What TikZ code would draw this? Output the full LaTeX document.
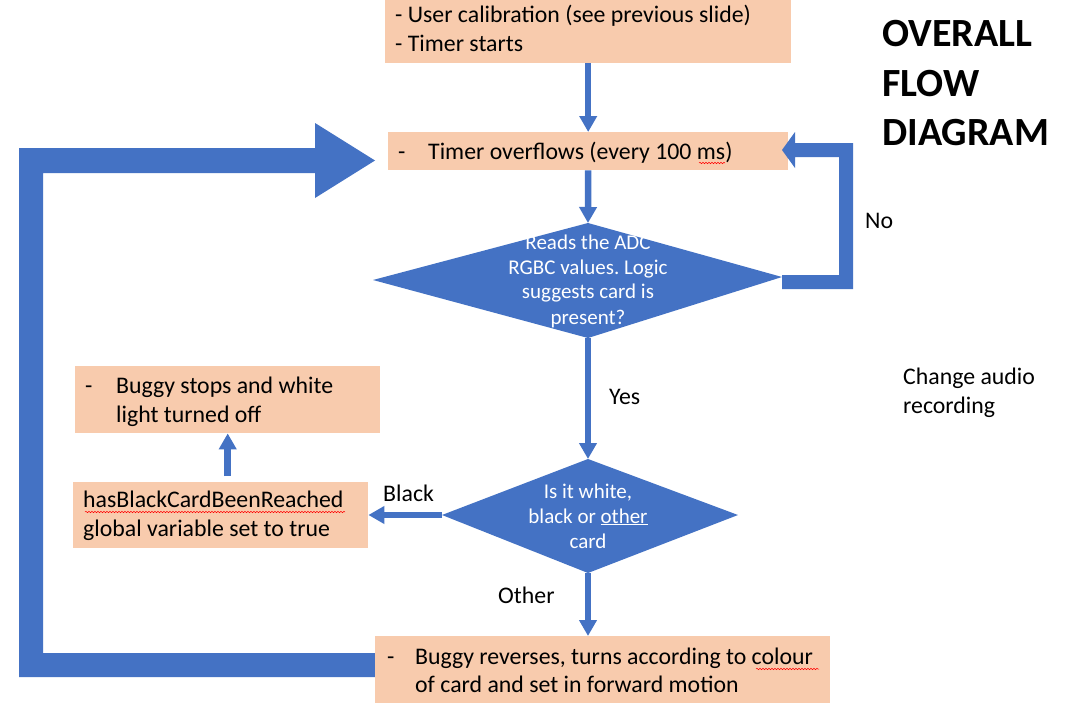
\documentclass[tikz,border=0pt]{standalone}
\usepackage{fontspec}
\setmainfont{Carlito}
\frenchspacing
\usetikzlibrary{arrows.meta,calc,decorations.pathmorphing}
\definecolor{flowblue}{HTML}{4472C4}
\definecolor{peach}{HTML}{F8CBAD}
\begin{document}
\begin{tikzpicture}[x=1pt,y=-1pt,
  box/.style={fill=peach, inner sep=0pt, anchor=north west, draw=none},
  txt/.style={anchor=base west, inner sep=0pt, font=\fontsize{23.8}{29}\selectfont},
  ttl/.style={anchor=base west, inner sep=0pt, font=\fontsize{40}{49}\selectfont\bfseries},
  dtxt/.style={anchor=base, inner sep=0pt, text=white, font=\fontsize{21}{25}\selectfont},
  conn/.style={draw=flowblue, line width=6.5pt, -{Triangle[width=17pt,length=16pt]}},
  blockarrow/.style={fill=flowblue, draw=none},
  squig/.style={draw=red, line width=0.5pt, decorate, decoration={snake, amplitude=0.7pt, segment length=3pt}}]
\fill[white] (0,0) rectangle (1069,709);
\useasboundingbox (0,0) rectangle (1069,709);

% big return arrow (left)
\fill[blockarrow] (375,160.5) coordinate (retTip) -- (315,123) -- (315,148) -- (19,148) -- (19,677) -- (375,677) -- (375,653) -- (43,653) -- (43,173) -- (315,173) -- (315,198) -- cycle;

% boxes
\node[box, minimum width=406pt, minimum height=63pt] (top) at (385,0) {};
\node[box, minimum width=400pt, minimum height=38pt] (timer) at (388,132) {};
\node[box, minimum width=305pt, minimum height=67pt] (stop) at (75,366) {};
\node[box, minimum width=295pt, minimum height=66pt] (hb) at (73,482) {};
\node[box, minimum width=455pt, minimum height=67pt] (bot) at (375,636) {};

% diamonds
\fill[flowblue] (588,223) coordinate (d1n) -- (782,277) coordinate (d1e) -- (588,338) coordinate (d1s) -- (373,280) coordinate (d1w) -- cycle;
\fill[flowblue] (588,459) coordinate (d2n) -- (738,515) coordinate (d2e) -- (588,573) coordinate (d2s) -- (442,515) coordinate (d2w) -- cycle;

% "No" loop block arrow
\fill[blockarrow] (782,150) coordinate (noTip) -- (795,132) -- (795,143) -- (853,143) -- (853,289) -- (782,289) -- (782,275) -- (839,275) -- (839,157) -- (795,157) -- (795,168) -- cycle;

% connectors
\draw[conn] (top.south) -- (timer.north);
\draw[conn] (timer.south) -- (d1n);
\draw[conn] (d1s) -- (d2n);
\draw[conn] (d2w) -- (hb.east |- d2w);
\draw[conn] ($(stop.south |- hb.north)+(0,-6)$) -- (stop.south);
\draw[conn] (d2s) -- (d2s |- bot.north);

% box texts
\node[txt] (t1) at (395,23) {- User calibration (see previous slide)};
\node[txt] (t2) at (395,52) {- Timer starts};
\node[txt] (tmd) at (398,159) {-};
\node[txt] (tm) at (428,159) {Timer overflows (every 100 ms)};
\node[txt] (sd) at (85,393) {-};
\node[txt] (s1) at (116,393) {Buggy stops and white};
\node[txt] (s2) at (116,422) {light turned off};
\node[txt] (h1) at (83,507) {hasBlackCardBeenReached};
\node[txt] (h2) at (83,536) {global variable set to true};
\node[txt] (bd) at (387,664) {-};
\node[txt] (b1) at (415,664) {Buggy reverses, turns according to colour};
\node[txt] (b2) at (415,692) {of card and set in forward motion};

% diamond texts
\node[dtxt] (q1a) at (588,249) {Reads the ADC};
\node[dtxt] (q1b) at (588,274) {RGBC values. Logic};
\node[dtxt] (q1c) at (588,298) {suggests card is};
\node[dtxt] (q1d) at (588,324) {present?};
\node[dtxt] (q2a) at (588,498) {Is it white,};
\node[dtxt] (q2b) at (588,523) {black or \underline{other}};
\node[dtxt] (q2c) at (588,548) {card};

% labels
\node[txt] (lno) at (865,228) {No};
\node[txt] (lyes) at (609,404) {Yes};
\node[txt] (lblack) at (383,501) {Black};
\node[txt] (lother) at (498,603) {Other};
\node[txt] (ca1) at (903,384) {Change audio};
\node[txt] (ca2) at (903,413) {recording};

% title
\node[ttl] (ti1) at (882,47) {OVERALL};
\node[ttl] (ti2) at (882,96) {FLOW};
\node[ttl] (ti3) at (882,145) {DIAGRAM};

% spell-check squiggles
\draw[squig] (699,163) -- (725,163);
\draw[squig] (756,669) -- (819,669);
\draw[squig] (85,512) -- (345,512);
\end{tikzpicture}
\end{document}
